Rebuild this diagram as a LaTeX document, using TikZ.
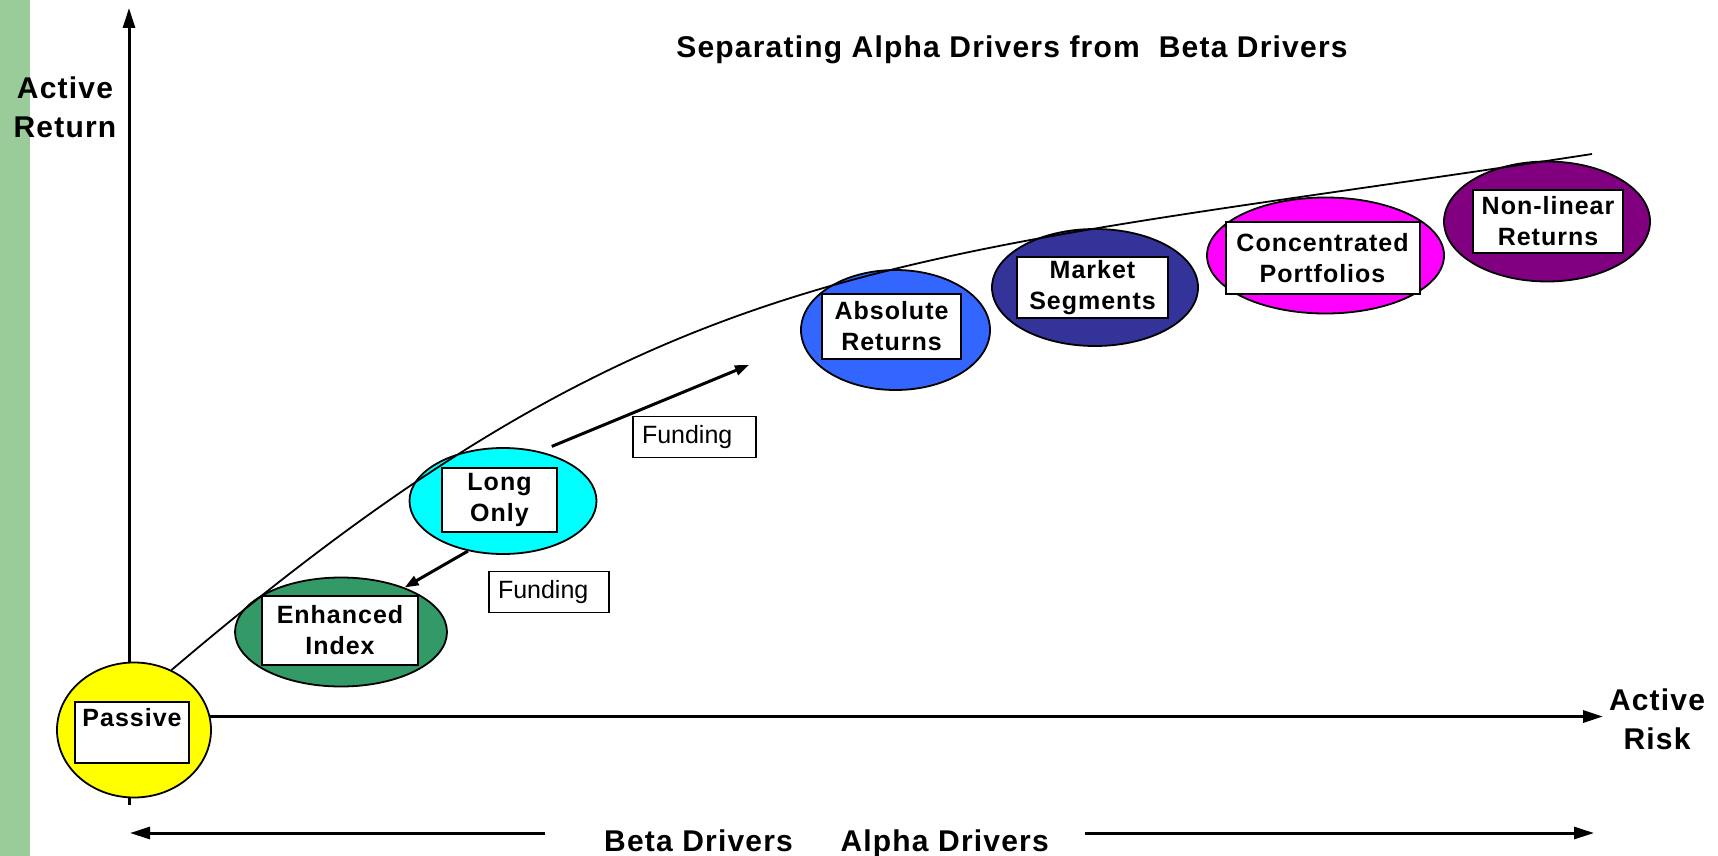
\documentclass[tikz,border=0pt]{standalone}
\usepackage{fontspec}
\setmainfont{Liberation Sans}
\newfontfamily\spacedfont[LetterSpace=4]{Liberation Sans}
\usetikzlibrary{arrows.meta,shapes.geometric}
\definecolor{barGreen}{HTML}{99CC99}
\definecolor{indexGreen}{HTML}{339966}
\definecolor{onlyCyan}{HTML}{00FFFF}
\definecolor{absBlue}{HTML}{3366FF}
\definecolor{segBlue}{HTML}{333399}
\definecolor{concPink}{HTML}{FF00FF}
\definecolor{nlPurple}{HTML}{800080}
\definecolor{passYellow}{HTML}{FFFF00}
\tikzset{
  blob/.style={ellipse, draw, line width=1.8pt, inner sep=0pt},
  tag/.style={draw, line width=2pt, fill=white, inner sep=0pt, align=center,
    font=\spacedfont\bfseries\fontsize{25}{31}\selectfont},
  fundbox/.style={draw, line width=1.3pt, inner ysep=0pt, inner xsep=9pt, align=left,
    minimum height=41pt, font=\fontsize{25}{30}\selectfont},
  biglabel/.style={align=center, inner sep=0pt,
    font=\spacedfont\bfseries\fontsize{30}{39}\selectfont},
  axis/.style={line width=3pt, -{Triangle[length=20pt,width=12pt]}},
  push/.style={line width=3pt, -{Triangle[length=14pt,width=10pt]}}
}

\begin{document}
\begin{tikzpicture}[x=1pt, y=-1pt]
			%%%%% START %%%%%
			\useasboundingbox (0,0) rectangle (1718,856);
			\fill[barGreen] (0,0) rectangle (30,856);
			
			\node[biglabel, anchor=base] (title) at (1012,58) {Separating Alpha Drivers from~ Beta Drivers};
			\node[biglabel, anchor=north] (retlabel) at (65,77) {Active\\Return};
			\node[biglabel, anchor=north] (risklabel) at (1657,689) {Active\\Risk};
			
			\node[blob, fill=passYellow, minimum width=154pt, minimum height=135pt] (passiveblob) at (134,730) {};
			\node[blob, fill=indexGreen, minimum width=212pt, minimum height=109pt] (indexblob) at (341,632) {};
			\node[blob, fill=onlyCyan, minimum width=187pt, minimum height=106pt] (onlyblob) at (503,501) {};
			\node[blob, fill=absBlue, minimum width=189pt, minimum height=120pt] (absblob) at (895.5,330) {};
			\node[blob, fill=segBlue, minimum width=206pt, minimum height=117pt] (segblob) at (1095,287.5) {};
			\node[blob, fill=concPink, minimum width=237pt, minimum height=116pt] (concblob) at (1325.5,255.5) {};
			\node[blob, fill=nlPurple, minimum width=206pt, minimum height=120pt] (nlblob) at (1547,221.5) {};
			
			\node[tag, minimum width=114pt, minimum height=61pt] (passivetag) at (132,732.5) {Passive\\\mbox{}};
			\node[tag, minimum width=156pt, minimum height=69pt] (indextag) at (340,630.5) {Enhanced\\Index};
			\node[tag, minimum width=115pt, minimum height=64pt] (onlytag) at (499.5,500) {Long\\Only};
			\node[tag, minimum width=139pt, minimum height=65pt] (abstag) at (891.5,326.5) {Absolute\\Returns};
			\node[tag, minimum width=151pt, minimum height=61pt] (segtag) at (1092.5,287.5) {Market\\Segments};
			\node[tag, minimum width=194pt, minimum height=72pt] (conctag) at (1322.5,258) {Concentrated\\Portfolios};
			\node[tag, minimum width=150pt, minimum height=63pt] (nltag) at (1548,221.5) {Non-linear\\Returns};
			
			\node[fundbox, text width=102pt] (fundlow) at (549,592) {Funding};
			\node[fundbox, text width=105pt] (fundhigh) at (694.5,437) {Funding};
			
			% axes
			\coordinate (ytip) at (129,8);
			\coordinate (xtip) at (1603,717);
			\draw[axis] (ytip |- passiveblob.north) -- (ytip);
			\draw[line width=3pt] (ytip |- passiveblob.south) -- ++(0,7);
			\draw[axis] (passiveblob.10) -- (passiveblob.10 -| xtip);
			
			% frontier
			\coordinate (frontier) at (1592,154);
			\draw[line width=1.8pt] (passiveblob.58) .. controls (671,245) and (891,262) .. (frontier);
			
			% funding arrows
			\coordinate (fundto) at (749,365);
			\draw[push] ([shift={(8,-6)}]onlyblob.50) -- (fundto);
			\draw[push] (onlyblob.235) -- (indexblob.35);
			
			% drivers
			\node[biglabel, inner xsep=59pt, anchor=base west] (beta) at (545,851) {Beta Drivers};
			\node[biglabel, inner xsep=36pt, anchor=base east] (alpha) at (1085,851) {Alpha Drivers};
			\coordinate (betatip) at (130,833);
			\coordinate (alphatip) at (1594,833);
			\draw[axis] (beta.west |- betatip) -- (betatip);
			\draw[axis] (alpha.east |- alphatip) -- (alphatip);
			%%%%% END %%%%%
\end{tikzpicture}
\end{document}
